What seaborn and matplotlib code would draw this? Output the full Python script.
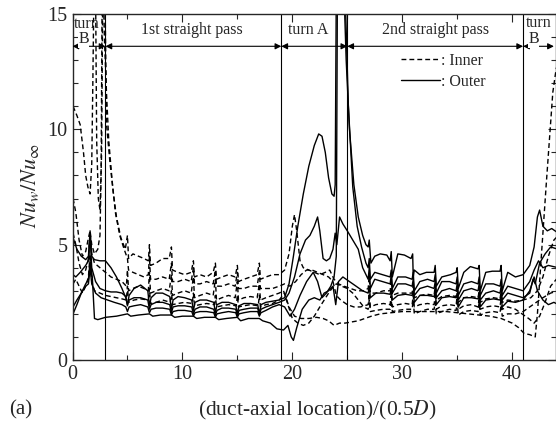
import pandas as pd
import numpy as np
import matplotlib
matplotlib.use("Agg")
import matplotlib.pyplot as plt
from matplotlib.lines import Line2D
from matplotlib.ticker import MultipleLocator
import seaborn as sns

# curves: (duct-axial location, Nu_w/Nu_inf)
outer_1 = [(0.05,5.3),(0.4,4.8),(0.8,4.5),(1.2,4.35),(1.45,4.5),(1.6,5.6),(1.75,4.5),(2.0,4.35),(2.5,4.3),(3.0,4.3),
           (3.5,4.0),(4.0,3.6),(4.5,3.1),(4.85,2.7),(5.0,2.35),(5.15,2.8),(5.6,3.1),(6.2,3.25),(6.85,3.0),(7.0,2.35),
           (7.15,2.7),(7.6,2.9),(8.2,2.9),(8.85,2.75),(9.0,2.2),(9.15,2.6),(9.6,2.75),(10.2,2.7),(10.85,2.6),(11.0,2.15),
           (11.15,2.5),(11.6,2.6),(12.2,2.6),(12.85,2.5),(13.0,2.05),(13.15,2.4),(13.6,2.5),(14.2,2.5),(14.85,2.4),(15.0,2.0),
           (15.15,2.35),(15.6,2.45),(16.2,2.45),(16.85,2.4),(17.0,2.0),(17.15,2.4),(17.6,2.5),(18.2,2.55),(18.8,2.6),(19.3,2.7),
           (19.7,3.3),(20.1,4.5),(20.5,5.8),(21.0,7.2),(21.5,8.4),(22.0,9.3),(22.4,9.8),(22.7,9.7),(23.0,9.0),(23.3,7.9),
           (23.6,7.2),(23.8,7.1),(23.9,7.6),(24.0,16),(24.7,16),(24.9,13),(25.2,10),(25.6,7.6),(26.0,6.2),(26.4,5.4),
           (26.7,5.0),(26.9,4.9),(27.0,5.2),(27.15,4.2),(27.5,4.5),(28.0,4.6),(28.6,4.55),(28.9,4.3),(29.0,4.7),(29.1,3.6),
           (29.6,4.6),(30.2,4.55),(30.8,4.4),(30.95,4.6),(31.0,3.6),(31.1,3.9),(31.6,3.7),(32.2,3.8),(32.9,3.8),(33.0,4.1),
           (33.1,3.2),(33.6,3.6),(34.4,3.7),(34.9,3.8),(35.0,4.0),(35.1,3.1),(35.6,3.8),(36.2,4.05),(36.9,3.95),(37.0,4.1),
           (37.1,3.0),(37.6,3.8),(38.2,3.85),(38.9,3.85),(39.0,4.1),(39.1,3.0),(39.6,3.8),(40.3,3.6),(41.0,3.7),(41.6,4.1),
           (42.0,4.9),(42.3,6.2),(42.5,6.5),(42.8,5.8),(43.2,5.6),(43.6,5.7),(44.2,5.5)]

outer_2 = [(0.05,3.7),(0.3,3.6),(0.7,3.8),(1.2,4.1),(1.45,4.3),(1.6,5.4),(1.75,4.0),(2.1,3.4),(2.5,3.1),(3.0,3.0),
           (3.5,2.95),(4.0,2.95),(4.5,2.9),(4.85,2.75),(5.0,2.4),(5.15,2.6),(5.6,2.7),(6.2,2.7),(6.85,2.6),(7.0,2.2),
           (7.15,2.4),(7.6,2.5),(8.2,2.5),(8.85,2.4),(9.0,2.05),(9.15,2.3),(9.6,2.35),(10.2,2.35),(10.85,2.3),(11.0,2.0),
           (11.15,2.2),(11.6,2.3),(12.2,2.3),(12.85,2.2),(13.0,1.95),(13.15,2.15),(13.6,2.25),(14.2,2.25),(14.85,2.2),(15.0,1.9),
           (15.15,2.15),(15.6,2.2),(16.2,2.25),(16.85,2.25),(17.0,1.95),(17.15,2.2),(17.6,2.3),(18.2,2.4),(18.8,2.5),(19.3,2.6),
           (19.7,2.9),(20.2,3.6),(20.7,4.6),(21.2,5.2),(21.6,5.4),(22.0,5.8),(22.3,6.2),(22.5,5.6),(22.8,4.4),(23.1,4.3),
           (23.4,4.4),(23.7,4.8),(23.9,5.5),(24.05,5.0),(24.3,6.2),(24.6,5.9),(25.0,5.6),(25.5,5.2),(26.0,4.8),(26.4,4.0),
           (26.7,3.7),(26.9,3.5),(27.0,4.0),(27.1,3.1),(27.5,3.5),(28.2,3.4),(28.9,3.3),(29.0,3.7),(29.1,2.9),(29.6,3.3),
           (30.3,3.3),(30.9,3.2),(31.0,3.5),(31.1,2.8),(31.6,3.1),(32.3,3.2),(32.9,3.1),(33.0,3.4),(33.1,2.7),(33.6,3.0),
           (34.3,3.1),(34.9,3.0),(35.0,3.3),(35.1,2.6),(35.6,3.0),(36.3,3.1),(36.9,3.0),(37.0,3.3),(37.1,2.6),(37.6,2.9),
           (38.3,3.0),(38.9,2.9),(39.0,3.2),(39.1,2.6),(39.6,2.9),(40.3,2.8),(41.0,2.7),(41.6,2.9),(41.9,3.5),(42.1,3.3),
           (42.5,4.2),(43.0,4.6),(43.5,4.9),(44.2,4.8)]

outer_3 = [(0.05,2.3),(0.4,2.6),(0.8,2.9),(1.2,3.2),(1.45,3.3),(1.6,4.0),(1.75,3.3),(2.1,2.9),(2.6,2.7),(3.2,2.6),
           (3.8,2.5),(4.5,2.4),(4.85,2.3),(5.0,2.1),(5.15,2.3),(5.6,2.35),(6.2,2.4),(6.85,2.3),(7.0,2.05),(7.15,2.2),
           (7.6,2.25),(8.2,2.25),(8.85,2.2),(9.0,1.95),(9.15,2.1),(9.6,2.15),(10.2,2.15),(10.85,2.1),(11.0,1.9),(11.15,2.05),
           (11.6,2.1),(12.2,2.1),(12.85,2.05),(13.0,1.85),(13.15,2.0),(13.6,2.05),(14.2,2.1),(14.85,2.05),(15.0,1.85),(15.15,2.0),
           (15.6,2.05),(16.2,2.1),(16.85,2.1),(17.0,1.9),(17.15,2.05),(17.6,2.15),(18.2,2.3),(18.8,2.4),(19.3,2.3),(19.8,1.9),
           (20.2,2.2),(20.7,2.8),(21.3,3.4),(21.9,3.8),(22.3,3.4),(22.7,2.7),(23.1,2.9),(23.5,3.2),(23.8,3.6),(24.0,4.5),
           (24.1,16),(24.8,16),(25.1,11),(25.5,7.5),(25.9,5.8),(26.3,4.9),(26.7,4.2),(26.9,4.0),(27.0,4.4),(27.1,3.5),
           (27.5,3.8),(28.2,3.7),(28.9,3.6),(29.0,3.9),(29.1,3.1),(29.6,3.6),(30.3,3.6),(30.9,3.5),(31.0,3.8),(31.1,3.0),
           (31.6,3.4),(32.3,3.5),(32.9,3.4),(33.0,3.7),(33.1,2.9),(33.6,3.4),(34.3,3.4),(34.9,3.3),(35.0,3.6),(35.1,2.8),
           (35.6,3.3),(36.3,3.4),(36.9,3.3),(37.0,3.6),(37.1,2.8),(37.6,3.3),(38.3,3.3),(38.9,3.2),(39.0,3.5),(39.1,2.8),
           (39.6,3.2),(40.3,3.1),(41.0,3.0),(41.6,3.4),(42.0,3.9),(42.4,4.3),(42.8,4.0),(43.3,4.1),(44.2,4.0)]

outer_4 = [(0.05,2.0),(0.4,2.4),(0.8,2.9),(1.2,3.3),(1.45,3.5),(1.6,4.3),(1.8,3.6),(2.0,1.8),(2.3,1.75),(3.0,1.85),
           (4.0,1.9),(5.0,2.0),(5.3,1.9),(6.0,1.95),(7.0,2.0),(7.3,1.9),(8.0,1.95),(9.0,1.95),(9.3,1.85),(10.0,1.9),
           (11.0,1.9),(11.3,1.8),(12.0,1.85),(13.0,1.85),(13.3,1.75),(14.0,1.8),(15.0,1.85),(15.3,1.7),(16.0,1.8),(17.0,1.8),
           (17.3,1.7),(18.0,1.6),(18.6,1.35),(19.2,1.3),(19.6,1.5),(19.9,1.0),(20.1,0.85),(20.4,1.4),(20.9,2.2),(21.5,2.6),
           (22.0,2.7),(22.5,2.6),(22.9,2.9),(23.3,3.0),(23.7,3.2),(23.95,2.4),(24.2,3.4),(24.6,3.6),(25.2,3.4),(25.8,3.2),
           (26.4,3.0),(26.9,2.9),(27.0,3.2),(27.1,2.7),(27.6,2.9),(28.3,2.9),(28.9,2.85),(29.0,3.1),(29.1,2.6),(29.6,2.8),
           (30.3,2.85),(30.9,2.8),(31.0,3.0),(31.1,2.5),(31.6,2.8),(32.3,2.8),(32.9,2.75),(33.0,3.0),(33.1,2.4),(33.6,2.7),
           (34.3,2.75),(34.9,2.7),(35.0,2.9),(35.1,2.3),(35.6,2.7),(36.3,2.7),(36.9,2.65),(37.0,2.9),(37.1,2.3),(37.6,2.6),
           (38.3,2.65),(38.9,2.6),(39.0,2.8),(39.1,2.3),(39.6,2.55),(40.3,2.5),(41.0,2.6),(41.6,3.0),(42.0,3.6),(42.3,3.0),
           (42.8,2.6),(43.3,2.4),(43.8,2.5),(44.2,2.4)]

inner_1 = [(0.05,11.0),(0.4,10.6),(0.7,10.2),(1.0,9.0),(1.2,8.0),(1.4,7.5),(1.6,7.2),(1.75,8.5),(1.85,12),(1.95,16),
           (2.1,16),(2.2,9.5),(2.35,7.0),(2.5,6.5),(2.65,9),(2.75,16),(2.95,16),(3.1,10.2),(3.4,8.6),(3.7,7.3),
           (4.0,6.2),(4.4,5.3),(4.8,4.8),(5.0,5.4),(5.1,4.4),(5.5,4.6),(6.0,4.5),(6.5,4.4),(6.9,4.3),(7.0,5.0),
           (7.1,4.1),(7.6,4.2),(8.2,4.4),(8.8,4.4),(9.0,4.9),(9.1,3.9),(9.6,3.8),(10.2,3.7),(10.8,3.8),(11.0,4.3),
           (11.1,3.6),(11.6,3.7),(12.2,3.6),(12.8,3.8),(13.0,4.2),(13.1,3.5),(13.6,3.6),(14.2,3.7),(14.8,3.6),(15.0,4.1),
           (15.1,3.4),(15.6,3.5),(16.2,3.6),(16.8,3.7),(17.0,4.2),(17.1,3.5),(17.6,3.6),(18.2,3.7),(18.8,3.7),(19.3,3.9),
           (19.7,4.6),(20.0,5.8),(20.2,6.3),(20.4,5.6),(20.7,4.3),(21.0,4.0),(21.5,3.9),(22.0,3.8),(22.5,3.7),(23.0,3.8),
           (23.4,3.9),(23.8,3.5),(24.2,3.3),(24.7,3.2),(25.3,3.1),(25.9,3.0),(26.5,3.0),(26.9,3.1),(27.0,3.6),(27.1,2.9),
           (27.6,2.9),(28.3,3.0),(28.9,3.0),(29.0,3.5),(29.1,2.8),(29.6,2.9),(30.3,2.9),(30.9,2.9),(31.0,3.3),(31.1,2.7),
           (31.6,2.8),(32.3,2.85),(32.9,2.8),(33.0,3.2),(33.1,2.6),(33.6,2.75),(34.3,2.8),(34.9,2.75),(35.0,3.1),(35.1,2.5),
           (35.6,2.7),(36.3,2.75),(36.9,2.7),(37.0,3.0),(37.1,2.5),(37.6,2.65),(38.3,2.7),(38.9,2.65),(39.0,3.0),(39.1,2.5),
           (39.6,2.6),(40.3,2.55),(41.0,2.6),(41.7,2.7),(42.3,3.0),(42.8,3.6),(43.3,4.5),(43.8,5.2),(44.2,5.4)]

inner_2 = [(0.05,7.0),(0.3,6.4),(0.6,5.2),(0.9,4.5),(1.2,4.7),(1.45,5.3),(1.6,5.6),(1.75,5.0),(2.0,4.6),(2.3,4.8),
           (2.5,5.4),(2.6,8),(2.7,16),(2.8,16),(2.9,14),(3.1,11.5),(3.3,9.5),(3.6,7.8),(3.9,6.4),(4.3,5.4),
           (4.7,4.8),(5.0,4.4),(5.1,3.9),(5.5,3.8),(6.0,3.7),(6.5,3.6),(6.9,3.7),(7.0,4.5),(7.1,3.5),(7.6,3.5),
           (8.2,3.6),(8.8,3.5),(9.0,4.2),(9.1,3.4),(9.6,3.4),(10.2,3.5),(10.8,3.4),(11.0,4.0),(11.1,3.3),(11.6,3.3),
           (12.2,3.4),(12.8,3.3),(13.0,3.9),(13.1,3.2),(13.6,3.2),(14.2,3.3),(14.8,3.2),(15.0,3.8),(15.1,3.1),(15.6,3.1),
           (16.2,3.2),(16.8,3.2),(17.0,3.8),(17.1,3.1),(17.6,3.1),(18.2,3.1),(18.8,3.2),(19.3,3.3),(19.8,3.2),(20.3,3.4),
           (20.8,3.7),(21.3,3.9),(21.8,3.9),(22.3,3.8),(22.8,3.7),(23.3,3.6),(23.7,3.4),(24.0,2.8),(24.4,2.6),(25.0,2.4),
           (25.6,2.3),(26.2,2.3),(26.9,2.4),(27.0,2.9),(27.1,2.3),(27.6,2.4),(28.3,2.45),(28.9,2.4),(29.0,2.9),(29.1,2.3),
           (29.6,2.4),(30.3,2.45),(30.9,2.4),(31.0,2.8),(31.1,2.3),(31.6,2.4),(32.3,2.45),(32.9,2.4),(33.0,2.8),(33.1,2.2),
           (33.6,2.35),(34.3,2.4),(34.9,2.35),(35.0,2.8),(35.1,2.2),(35.6,2.35),(36.3,2.4),(36.9,2.3),(37.0,2.7),(37.1,2.2),
           (37.6,2.3),(38.3,2.35),(38.9,2.3),(39.0,2.7),(39.1,2.2),(39.6,2.3),(40.3,2.2),(40.9,2.0),(41.5,1.8),(42.0,1.6),
           (42.5,1.9),(43.0,2.5),(43.5,3.2),(44.2,3.6)]

inner_3 = [(0.05,5.5),(0.3,5.0),(0.6,4.2),(0.9,3.7),(1.2,3.9),(1.45,4.4),(1.6,5.5),(1.75,4.6),(2.0,4.2),(2.5,4.0),
           (3.0,3.8),(3.5,3.6),(4.0,3.5),(4.5,3.4),(4.9,3.2),(5.0,3.9),(5.1,3.0),(5.5,3.1),(6.0,3.2),(6.5,3.1),
           (6.9,3.0),(7.0,3.8),(7.1,2.9),(7.6,3.0),(8.2,3.1),(8.8,3.0),(9.0,3.7),(9.1,2.8),(9.6,2.9),(10.2,3.0),
           (10.8,2.9),(11.0,3.6),(11.1,2.7),(11.6,2.8),(12.2,2.9),(12.8,2.8),(13.0,3.5),(13.1,2.6),(13.6,2.7),(14.2,2.8),
           (14.8,2.7),(15.0,3.4),(15.1,2.6),(15.6,2.7),(16.2,2.75),(16.8,2.7),(17.0,3.3),(17.1,2.6),(17.6,2.7),(18.2,2.8),
           (18.8,2.9),(19.2,3.0),(19.6,2.4),(20.0,1.8),(20.5,1.6),(21.0,1.5),(21.5,1.6),(22.0,1.9),(22.5,2.3),(22.9,2.6),
           (23.3,2.9),(23.6,3.1),(24.0,3.3),(24.5,3.2),(25.0,3.1),(25.5,2.9),(26.0,2.6),(26.5,2.3),(26.9,2.2),(27.0,2.6),
           (27.1,2.1),(27.6,2.15),(28.3,2.2),(28.9,2.2),(29.0,2.6),(29.1,2.1),(29.6,2.15),(30.3,2.2),(30.9,2.2),(31.0,2.6),
           (31.1,2.0),(31.6,2.1),(32.3,2.2),(32.9,2.2),(33.0,2.5),(33.1,2.0),(33.6,2.1),(34.3,2.2),(34.9,2.15),(35.0,2.5),
           (35.1,1.95),(35.6,2.1),(36.3,2.15),(36.9,2.1),(37.0,2.5),(37.1,1.95),(37.6,2.05),(38.3,2.1),(38.9,2.05),(39.0,2.4),
           (39.1,1.9),(39.6,2.0),(40.3,2.0),(41.0,2.1),(41.6,2.3),(42.2,2.5),(42.8,2.7),(43.5,2.9),(44.2,3.0)]

inner_4 = [(0.05,3.3),(0.3,3.5),(0.6,3.2),(0.9,2.9),(1.2,3.2),(1.45,3.6),(1.6,4.6),(1.75,3.4),(2.0,3.0),(2.5,2.9),
           (3.0,2.8),(3.5,2.75),(4.0,2.7),(4.5,2.65),(4.9,2.6),(5.0,3.2),(5.1,2.5),(5.6,2.6),(6.2,2.65),(6.9,2.6),
           (7.0,3.1),(7.1,2.45),(7.6,2.5),(8.2,2.6),(8.9,2.5),(9.0,3.0),(9.1,2.4),(9.6,2.45),(10.2,2.5),(10.9,2.45),
           (11.0,2.9),(11.1,2.35),(11.6,2.4),(12.2,2.45),(12.9,2.4),(13.0,2.8),(13.1,2.3),(13.6,2.35),(14.2,2.4),(14.9,2.35),
           (15.0,2.8),(15.1,2.3),(15.6,2.35),(16.2,2.4),(16.9,2.35),(17.0,2.8),(17.1,2.3),(17.6,2.4),(18.2,2.45),(18.8,2.6),
           (19.3,2.9),(19.7,2.3),(20.2,1.9),(20.8,1.8),(21.5,1.8),(22.2,1.85),(22.8,1.8),(23.3,1.7),(23.8,1.5),(24.3,1.6),
           (24.8,1.6),(25.4,1.65),(26.0,1.7),(26.6,1.8),(27.2,1.9),(28.0,2.0),(29.0,2.05),(30.0,2.1),(31.0,2.1),(32.0,2.1),
           (33.0,2.1),(34.0,2.1),(35.0,2.05),(36.0,2.0),(37.0,1.95),(38.0,1.9),(39.0,1.8),(40.0,1.6),(40.6,1.4),(41.1,1.15),
           (41.6,1.1),(42.1,1.0),(42.3,2.0),(42.5,3.4),(42.8,5.5),(43.1,7.6),(43.4,9.6),(43.7,11.6),(44.0,12.6),(44.2,13.0)]

region_edges = [0, 3, 19, 25, 41, 43.8]
region_names = ["", "1st straight pass", "turn A", "2nd straight pass", ""]

curves = {"o1": ("Outer", outer_1), "o2": ("Outer", outer_2), "o3": ("Outer", outer_3), "o4": ("Outer", outer_4),
          "i1": ("Inner", inner_1), "i2": ("Inner", inner_2), "i3": ("Inner", inner_3), "i4": ("Inner", inner_4)}

rows = []
for name, (side, pts) in curves.items():
    for x, y in pts:
        rows.append((name, side, x, y))
df = pd.DataFrame(rows, columns=["curve", "side", "x", "y"])

sns.set_style("ticks")
plt.rcParams["font.family"] = ["Liberation Serif", "DejaVu Serif"]
plt.rcParams["mathtext.fontset"] = "stix"

fig = plt.figure(figsize=(5.56, 4.34), dpi=100)
ax = fig.add_axes([72.5/556, 74/434, 483.6/556, 346/434])

sns.lineplot(data=df, x="x", y="y", units="curve", style="side", estimator=None, sort=False,
             dashes={"Inner": (3.5, 2.2), "Outer": ""}, color="black", linewidth=1.0,
             legend=False, ax=ax)

ax.set_xlim(0, 44)
ax.set_ylim(0, 15)
ax.set_xticks([0, 10, 20, 30, 40])
ax.set_yticks([0, 5, 10, 15])
ax.xaxis.set_minor_locator(MultipleLocator(5))
ax.yaxis.set_minor_locator(MultipleLocator(1))
ax.tick_params(which="both", direction="in", top=True, right=True, labelsize=14.5, width=0.8)
ax.tick_params(which="major", length=6)
ax.tick_params(which="minor", length=3.5)
for s in ax.spines.values():
    s.set_linewidth(1.0)
ax.set_xlabel("")
ax.set_ylabel("")

for xe in region_edges[1:5]:
    ax.axvline(xe, color="black", lw=0.8)

ya = 13.6
for a, b in zip(region_edges[:-1], region_edges[1:]):
    ax.annotate("", xy=(b, ya), xytext=(a, ya),
                arrowprops=dict(arrowstyle="<|-|>", color="black", lw=0.8,
                                shrinkA=0, shrinkB=0, mutation_scale=9))

fs = 11.5
ax.text(10.9, 14.3, region_names[1], ha="center", va="center", fontsize=fs)
ax.text(21.4, 14.3, region_names[2], ha="center", va="center", fontsize=fs)
ax.text(33.0, 14.3, region_names[3], ha="center", va="center", fontsize=fs)
ax.text(0.15, 14.55, "turn", ha="left", va="center", fontsize=fs)
ax.text(1.0, 13.9, "B", ha="center", va="center", fontsize=fs,
        bbox=dict(fc="white", ec="none", pad=0.2))
ax.text(41.25, 14.6, "turn", ha="left", va="center", fontsize=fs)
ax.text(41.95, 13.9, "B", ha="center", va="center", fontsize=fs,
        bbox=dict(fc="white", ec="none", pad=0.2))

handles = [Line2D([], [], color="black", lw=1.0, dashes=(3.5, 2.2)),
           Line2D([], [], color="black", lw=1.0)]
ax.legend(handles, [": Inner", ": Outer"], loc="upper left", bbox_to_anchor=(0.68, 0.888),
          frameon=False, handlelength=2.4, handletextpad=0.1, labelspacing=0.3,
          fontsize=fs, borderaxespad=0, borderpad=0)

fig.text(30/556, 1 - 185/434, r"$Nu_w/Nu_\infty$", rotation=90, ha="center", va="center", fontsize=16)
fig.text(317/556, 1 - 410/434, r"(duct-axial location)/(0.5$D$)", ha="center", va="center", fontsize=15.5)
fig.text(21/556, 1 - 410/434, "(a)", ha="center", va="center", fontsize=15)

fig.savefig("out.png", dpi=100)
